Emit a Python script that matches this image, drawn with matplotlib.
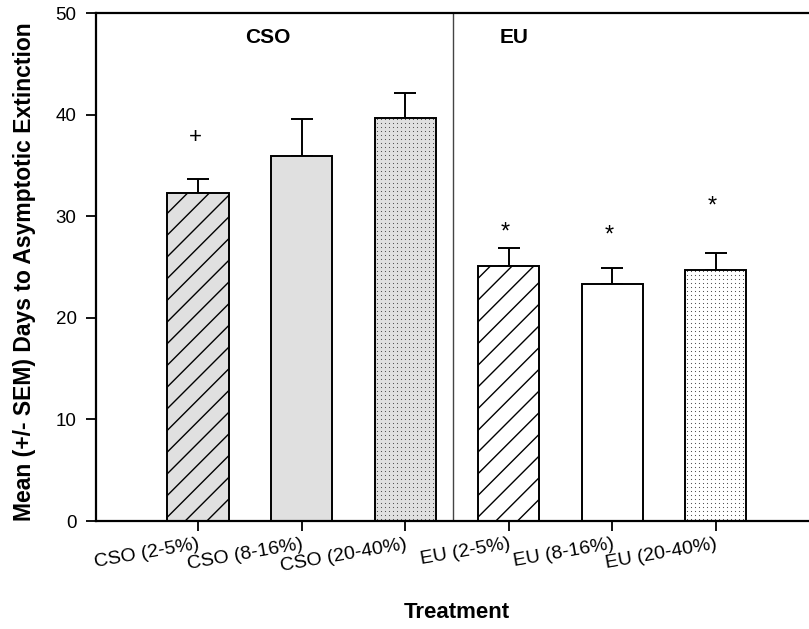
import matplotlib
matplotlib.use("Agg")
import matplotlib.pyplot as plt
from matplotlib.collections import LineCollection
from matplotlib.transforms import IdentityTransform
import numpy as np

plt.rcParams['font.family'] = ['Liberation Sans', 'DejaVu Sans']

categories = ["CSO (2-5%)", "CSO (8-16%)", "CSO (20-40%)", "EU (2-5%)", "EU (8-16%)", "EU (20-40%)"]
means = [32.25, 35.9, 39.7, 25.1, 23.3, 24.7]
sems = [1.45, 3.7, 2.4, 1.8, 1.6, 1.65]
marks = ["+", "", "", "*", "*", "*"]
mark_y = [37.7, None, None, 28.4, 28.1, 31.0]
groups = ["CSO", "EU"]

fills = ["#e0e0e0", "#e0e0e0", "#e0e0e0", "white", "white", "white"]
patterns = ["lines", "", "dots", "lines", "", "dots"]

fig = plt.figure(figsize=(8.09, 6.29), dpi=100)
ax = fig.add_axes([96/809, 1-521/629, 713/809, 508/629])
ax.set_xlim(-0.985, 5.9)
ax.set_ylim(0, 50)

x = np.arange(len(categories))
for i in range(len(categories)):
    bars = ax.bar(x[i], means[i], width=0.59, color=fills[i], edgecolor='none', zorder=2)
    rect = bars[0]
    bb = rect.get_window_extent()
    x0, x1, y0, y1 = bb.x0, bb.x1, bb.y0, bb.y1
    if patterns[i] == "lines":
        h = y1 - y0
        segs = []
        k = x1
        while k > x0 - h:
            segs.append([(k, y0), (k + h, y1)])
            k -= 21.7
        lc = LineCollection(segs, colors='black', linewidths=1.0,
                            transform=IdentityTransform(), zorder=2.1)
        ax.add_collection(lc)
        lc.set_clip_path(rect)
    elif patterns[i] == "dots":
        xs = np.arange(x0 + 2, x1, 4.0)
        ys = np.arange(y0 + 2, y1, 4.0)
        gx, gy = np.meshgrid(xs, ys)
        ln, = ax.plot(gx.ravel(), gy.ravel(), ls='none', marker='s', ms=0.75,
                      mew=0, color='#555555', transform=IdentityTransform(), zorder=2.1)
        ln.set_clip_path(rect)
    ax.bar(x[i], means[i], width=0.59, fill=False, edgecolor='black',
           linewidth=1.4, zorder=2.2)
    ax.errorbar(x[i], means[i], yerr=[[0], [sems[i]]], fmt='none', ecolor='black',
                elinewidth=1.4, capsize=8, capthick=1.4, zorder=1)
    if marks[i]:
        ax.text(x[i] - 0.03, mark_y[i], marks[i], ha='center', va='center',
                fontsize=16 if marks[i] == '+' else 17)

ax.axvline(2.46, color='#444444', linewidth=1.0)
ax.text(0.67, 47.6, groups[0], ha='center', va='center', fontsize=15, fontweight='bold')
ax.text(3.05, 47.6, groups[1], ha='center', va='center', fontsize=15, fontweight='bold')

ax.set_yticks([0, 10, 20, 30, 40, 50])
ax.tick_params(axis='y', labelsize=13.5, length=7, width=1.3, direction='out', pad=7)
ax.tick_params(axis='x', length=7, width=1.3, direction='out')
ax.set_xticks(x)
ax.set_xticklabels(categories, rotation=10, ha='right', rotation_mode='anchor', fontsize=14)
for s in ['left', 'bottom', 'top']:
    ax.spines[s].set_linewidth(1.6)
ax.spines['right'].set_visible(False)

fig.text(25/809, 1-272/629, "Mean (+/- SEM) Days to Asymptotic Extinction", rotation=90,
         ha='center', va='center', fontsize=16.5, fontweight='bold')
fig.text(457/809, 1-613/629, "Treatment", ha='center', va='center', fontsize=16, fontweight='bold')

fig.savefig("out.png", dpi=100)
